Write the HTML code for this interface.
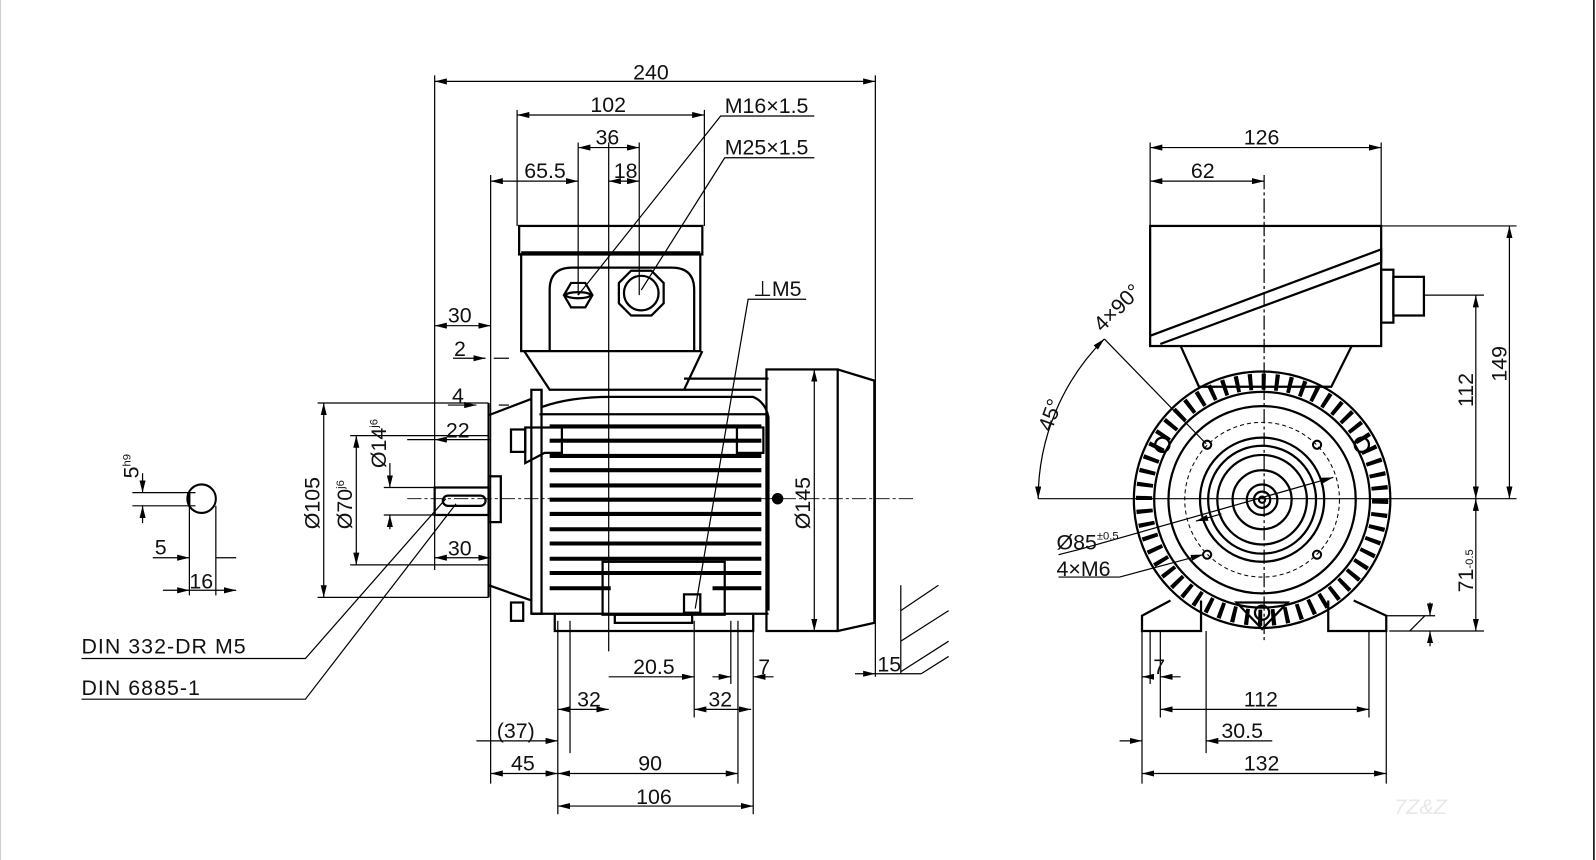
<!DOCTYPE html>
<html><head><meta charset="utf-8"><style>
html,body{margin:0;padding:0;background:#fff;}
svg{display:block}
text{font-family:"Liberation Sans",sans-serif;font-size:21px;fill:#111;}
</style></head><body>
<svg width="1596" height="860" viewBox="0 0 1568 845" xmlns="http://www.w3.org/2000/svg">
<defs>
<marker id="a" viewBox="0 0 12 6" refX="12" refY="3" markerWidth="12" markerHeight="6" orient="auto-start-reverse" markerUnits="userSpaceOnUse"><path d="M0,0L12,3L0,6z" fill="#000"/></marker>
</defs>
<rect x="0" y="0" width="1568" height="845" fill="#fff"/>
<line x1="1566" y1="0" x2="1566" y2="845" stroke="#000" stroke-width="1.5"/>
<line x1="0.5" y1="0" x2="0.5" y2="845" stroke="#ccc" stroke-width="1"/>

<g stroke="#000" fill="none" stroke-width="1.2">
<line x1="427" y1="74" x2="427" y2="560"/>
<line x1="860" y1="74" x2="860" y2="665"/>
<line x1="508" y1="108" x2="508" y2="222"/>
<line x1="692" y1="108" x2="692" y2="222"/>
<line x1="568" y1="140" x2="568" y2="290"/>
<line x1="598" y1="140" x2="598" y2="640"/>
<line x1="628" y1="140" x2="628" y2="290"/>
<line x1="482" y1="172" x2="482" y2="770"/>
<line x1="427" y1="80" x2="860" y2="80" marker-start="url(#a)" marker-end="url(#a)"/>
<line x1="508" y1="113" x2="692" y2="113" marker-start="url(#a)" marker-end="url(#a)"/>
<line x1="568" y1="145" x2="628" y2="145" marker-start="url(#a)" marker-end="url(#a)"/>
<line x1="482" y1="178" x2="568" y2="178" marker-start="url(#a)" marker-end="url(#a)"/>
<line x1="598" y1="178" x2="628" y2="178" marker-start="url(#a)" marker-end="url(#a)"/>
<polyline points="800,114 708,114 568,290"/>
<polyline points="800,155 712,155 630,285"/>
<polyline points="792,294 735,294 683,598"/>
<line x1="427" y1="320" x2="482" y2="320" marker-start="url(#a)" marker-end="url(#a)"/>
<polyline points="445,352 470,352 477,352" marker-end="url(#a)"/>
<line x1="485" y1="352" x2="500" y2="352"/>
<polyline points="440,398 468,398" marker-end="url(#a)"/>
<line x1="490" y1="398" x2="500" y2="398"/>
<line x1="400" y1="432" x2="427" y2="432"/>
<line x1="427" y1="432" x2="482" y2="432" marker-start="url(#a)"/>
<line x1="427" y1="548" x2="482" y2="548" marker-start="url(#a)" marker-end="url(#a)"/>
<line x1="318" y1="396" x2="318" y2="587" marker-start="url(#a)" marker-end="url(#a)"/>
<line x1="312" y1="396" x2="480" y2="396"/>
<line x1="312" y1="587" x2="480" y2="587"/>
<line x1="350" y1="428" x2="350" y2="555" marker-start="url(#a)" marker-end="url(#a)"/>
<line x1="344" y1="428" x2="480" y2="428"/>
<line x1="344" y1="555" x2="480" y2="555"/>
<line x1="383" y1="455" x2="383" y2="479" marker-end="url(#a)"/>
<line x1="383" y1="506" x2="383" y2="520" marker-start="url(#a)"/>
<line x1="377" y1="479" x2="430" y2="479"/>
<line x1="377" y1="506" x2="430" y2="506"/>
<polyline points="80,647 300,647 438,490"/>
<polyline points="80,687 300,687 448,495"/>
<circle cx="198" cy="490" r="14" stroke-width="2"/>
<line x1="186" y1="484" x2="186" y2="497" stroke-width="2"/>
<line x1="130" y1="484" x2="192" y2="484"/>
<line x1="130" y1="497" x2="192" y2="497"/>
<line x1="140" y1="465" x2="140" y2="484" marker-end="url(#a)"/>
<line x1="140" y1="514" x2="140" y2="497" marker-end="url(#a)"/>
<line x1="186" y1="497" x2="186" y2="585"/>
<line x1="212" y1="497" x2="212" y2="585"/>
<line x1="150" y1="548" x2="186" y2="548" marker-end="url(#a)"/>
<line x1="232" y1="548" x2="212" y2="548"/>
<line x1="160" y1="580" x2="186" y2="580" marker-end="url(#a)"/>
<line x1="186" y1="580" x2="232" y2="580" marker-end="url(#a)"/>

<g stroke-width="2.2">
<rect x="510" y="222" width="180" height="28"/>
<line x1="512" y1="248" x2="688" y2="248"/>
<rect x="512" y="250" width="176" height="95"/>
<path d="M540,345 V285 Q540,263 562,263 H660 Q682,263 682,285 V345"/>
<polygon points="554,290 561,278 575,278 582,290 575,302 561,302"/>
<ellipse cx="568" cy="290" rx="12" ry="3"/>
<polygon points="608,278 620,266 640,266 652,278 652,298 640,310 620,310 608,298"/>
<circle cx="630" cy="288" r="17"/>
<path d="M515,345 L540,383 H672 L690,345"/>
<path d="M532,383 V400 Q560,390 600,390 H740 Q752,395 755,410 V600"/>
<rect x="522" y="383" width="10" height="220"/>
<line x1="672" y1="372" x2="755" y2="372"/>
<line x1="672" y1="383" x2="748" y2="383"/>
<line x1="530" y1="407" x2="755" y2="407"/>
<line x1="522" y1="603" x2="755" y2="603"/>
<line x1="480" y1="396" x2="480" y2="587"/>
<path d="M480,408 L522,392"/>
<path d="M480,575 L522,590"/>
<rect x="480" y="468" width="12" height="45"/>
<rect x="427" y="479" width="53" height="27"/>
<rect x="435" y="487" width="42" height="10" rx="5"/>
<rect x="502" y="422" width="14" height="22"/>
<path d="M516,420 H552 V445 H535 L516,455Z"/>
<rect x="724" y="420" width="26" height="25"/>
<rect x="502" y="592" width="12" height="18"/>
<rect x="592" y="552" width="120" height="52"/>
<rect x="672" y="584" width="16" height="18"/>
<path d="M545,604 V620 H740 V604"/>
<rect x="604" y="604" width="76" height="8"/>
<rect x="753" y="363" width="70" height="257"/>
<path d="M823,363 L859,374 V612 L823,620"/>
</g>
<g stroke-width="4">
<line x1="540" y1="419" x2="748" y2="419"/><line x1="540" y1="433" x2="748" y2="433"/>
<line x1="540" y1="448" x2="748" y2="448"/><line x1="540" y1="462" x2="748" y2="462"/>
<line x1="540" y1="477" x2="748" y2="477"/><line x1="540" y1="491" x2="748" y2="491"/>
<line x1="540" y1="505" x2="748" y2="505"/><line x1="540" y1="520" x2="748" y2="520"/>
<line x1="540" y1="534" x2="748" y2="534"/><line x1="540" y1="549" x2="748" y2="549"/>
<line x1="540" y1="563" x2="748" y2="563"/><line x1="540" y1="578" x2="600" y2="578"/>
<line x1="700" y1="578" x2="748" y2="578"/>
</g>
<circle cx="764" cy="490" r="5" fill="#000"/>
<line x1="400" y1="490" x2="900" y2="490" stroke-dasharray="14,3,3,3" stroke-width="0.8"/>
<line x1="800" y1="363" x2="800" y2="620" marker-start="url(#a)" marker-end="url(#a)"/>
<line x1="548" y1="610" x2="548" y2="800"/>
<line x1="740" y1="610" x2="740" y2="800"/>
<line x1="725" y1="610" x2="725" y2="770"/>
<line x1="560" y1="610" x2="560" y2="740"/>
<line x1="682" y1="610" x2="682" y2="705"/>
<line x1="718" y1="610" x2="718" y2="672"/>
<line x1="548" y1="697" x2="598" y2="697" marker-start="url(#a)" marker-end="url(#a)"/>
<line x1="598" y1="665" x2="682" y2="665" marker-end="url(#a)"/>
<line x1="700" y1="665" x2="718" y2="665" marker-end="url(#a)"/>
<line x1="760" y1="665" x2="740" y2="665" marker-end="url(#a)"/>
<line x1="682" y1="697" x2="738" y2="697" marker-start="url(#a)" marker-end="url(#a)"/>
<line x1="468" y1="728" x2="548" y2="728" marker-end="url(#a)"/>
<line x1="482" y1="760" x2="548" y2="760" marker-start="url(#a)" marker-end="url(#a)"/>
<line x1="548" y1="760" x2="725" y2="760" marker-start="url(#a)" marker-end="url(#a)"/>
<line x1="548" y1="792" x2="740" y2="792" marker-start="url(#a)" marker-end="url(#a)"/>
<line x1="840" y1="662" x2="860" y2="662" marker-end="url(#a)"/>
<line x1="860" y1="662" x2="905" y2="662"/>
<polyline points="885,575 885,662"/>
<line x1="885" y1="600" x2="922" y2="575"/>
<line x1="885" y1="630" x2="932" y2="600"/>
<line x1="885" y1="660" x2="932" y2="630"/>
<line x1="905" y1="662" x2="932" y2="645"/>

<line x1="1130" y1="140" x2="1130" y2="222"/>
<line x1="1357" y1="140" x2="1357" y2="222"/>
<line x1="1242" y1="172" x2="1242" y2="630" stroke-dasharray="14,3,3,3"/>
<line x1="1130" y1="145" x2="1357" y2="145" marker-start="url(#a)" marker-end="url(#a)"/>
<line x1="1130" y1="178" x2="1242" y2="178" marker-start="url(#a)" marker-end="url(#a)"/>
<line x1="1357" y1="222" x2="1490" y2="222"/>
<line x1="1400" y1="290" x2="1458" y2="290"/>
<line x1="1020" y1="490" x2="1490" y2="490"/>
<line x1="1365" y1="620" x2="1458" y2="620"/>
<line x1="1483" y1="222" x2="1483" y2="490" marker-start="url(#a)" marker-end="url(#a)"/>
<line x1="1450" y1="290" x2="1450" y2="490" marker-start="url(#a)" marker-end="url(#a)"/>
<line x1="1450" y1="490" x2="1450" y2="620" marker-start="url(#a)" marker-end="url(#a)"/>
<line x1="1405" y1="592" x2="1405" y2="605" marker-end="url(#a)"/>
<line x1="1405" y1="635" x2="1405" y2="620" marker-end="url(#a)"/>
<line x1="1362" y1="605" x2="1410" y2="605"/>
<line x1="1385" y1="620" x2="1400" y2="605"/>
<path d="M1020,490 A222,222 0 0 1 1085,333" marker-start="url(#a)" marker-end="url(#a)"/>
<line x1="1085" y1="333" x2="1185" y2="436"/>
<polyline points="1040,567 1100,567 1182,545" marker-end="url(#a)"/>
<polyline points="1040,545 1060,540 1310,469" marker-end="url(#a)"/>
<line x1="1175" y1="512" x2="1200" y2="505" marker-start="url(#a)"/>
<line x1="1122" y1="620" x2="1122" y2="770"/>
<line x1="1362" y1="620" x2="1362" y2="770"/>
<line x1="1140" y1="620" x2="1140" y2="705"/>
<line x1="1345" y1="620" x2="1345" y2="705"/>
<line x1="1130" y1="620" x2="1130" y2="672"/>
<line x1="1185" y1="620" x2="1185" y2="740"/>
<line x1="1122" y1="665" x2="1130" y2="665" marker-start="url(#a)"/>
<line x1="1160" y1="665" x2="1140" y2="665" marker-end="url(#a)"/>
<line x1="1140" y1="697" x2="1345" y2="697" marker-start="url(#a)" marker-end="url(#a)"/>
<line x1="1100" y1="728" x2="1122" y2="728" marker-end="url(#a)"/>
<line x1="1185" y1="728" x2="1250" y2="728" marker-start="url(#a)"/>
<line x1="1122" y1="760" x2="1362" y2="760" marker-start="url(#a)" marker-end="url(#a)"/>

<g stroke-width="2.2">
<rect x="1130" y="222" width="227" height="118"/>
<path d="M1130,330 L1357,245 V258 L1140,338"/>
<rect x="1357" y="265" width="12" height="52"/>
<rect x="1369" y="272" width="30" height="38"/>
<path d="M1160,340 L1178,380 H1308 L1328,340"/>
<circle cx="1240" cy="491" r="126"/>
<circle cx="1240" cy="491" r="106"/>
<circle cx="1240" cy="491" r="92"/>
<circle cx="1240" cy="491" r="61"/>
<circle cx="1240" cy="491" r="53"/>
<circle cx="1240" cy="491" r="44"/>
<circle cx="1240" cy="491" r="29"/>
<circle cx="1240" cy="491" r="15"/>
<circle cx="1240" cy="491" r="8"/>
<circle cx="1240" cy="491" r="3"/>
<path d="M1150,590 L1122,605 V620 H1180 V590"/>
<path d="M1330,590 L1362,605 V620 H1305 V590"/>
<polygon points="1215,592 1265,592 1240,618"/>
<circle cx="1240" cy="602" r="7"/>
<circle cx="1142" cy="437" r="7"/>
<circle cx="1338" cy="437" r="7"/>
</g>
<circle cx="1240" cy="491" r="76" stroke-dasharray="4,3" stroke-width="1"/>
<circle cx="1186" cy="437" r="4" stroke-width="2"/>
<circle cx="1294" cy="437" r="4" stroke-width="2"/>
<circle cx="1186" cy="545" r="4" stroke-width="2"/>
<circle cx="1294" cy="545" r="4" stroke-width="2"/>
<circle cx="1240" cy="491" r="116" stroke-width="16" stroke-dasharray="4,9" stroke="#000"/>
</g>

<text x="622" y="78">240</text>
<text x="580" y="110">102</text>
<text x="585" y="142">36</text>
<text x="515" y="175">65.5</text>
<text x="603" y="175">18</text>
<text x="712" y="111">M16×1.5</text>
<text x="712" y="152">M25×1.5</text>
<text x="740" y="291">⊥M5</text>
<text x="440" y="317">30</text>
<text x="446" y="350">2</text>
<text x="444" y="396">4</text>
<text x="438" y="430">22</text>
<text x="440" y="546">30</text>
<text x="80" y="642" style="letter-spacing:1px">DIN 332-DR M5</text>
<text x="80" y="683" style="letter-spacing:1px">DIN 6885-1</text>
<text x="152" y="545">5</text>
<text x="186" y="578">16</text>
<text transform="translate(136,470) rotate(-90)">5<tspan font-size="11" dy="-8">h9</tspan></text>
<text transform="translate(314,520) rotate(-90)">Ø105</text>
<text transform="translate(346,520) rotate(-90)">Ø70<tspan font-size="11" dy="-8">j6</tspan></text>
<text transform="translate(379,460) rotate(-90)">Ø14<tspan font-size="11" dy="-8">j6</tspan></text>
<text transform="translate(796,520) rotate(-90)">Ø145</text>
<text x="567" y="694">32</text>
<text x="622" y="662">20.5</text>
<text x="745" y="662">7</text>
<text x="696" y="694">32</text>
<text x="488" y="725">(37)</text>
<text x="502" y="757">45</text>
<text x="627" y="757">90</text>
<text x="625" y="790">106</text>
<text x="862" y="660">15</text>
<text x="1222" y="142">126</text>
<text x="1170" y="175">62</text>
<text transform="translate(1480,375) rotate(-90)">149</text>
<text transform="translate(1447,400) rotate(-90)">112</text>
<text transform="translate(1447,582) rotate(-90)">71<tspan font-size="11">-0.5</tspan></text>
<text transform="translate(1083,327) rotate(-45)">4×90°</text>
<text transform="translate(1033,425) rotate(-70)">45°</text>
<text x="1038" y="540">Ø85<tspan font-size="11" dy="-10">±0.5</tspan></text>
<text x="1038" y="566">4×M6</text>
<text x="1133" y="662">7</text>
<text x="1222" y="694">112</text>
<text x="1200" y="725">30.5</text>
<text x="1222" y="757">132</text>
<text x="1370" y="800" font-size="40" font-style="italic" style="fill:#e8e8e8">7Z&amp;Z</text>
</svg>
</body></html>
